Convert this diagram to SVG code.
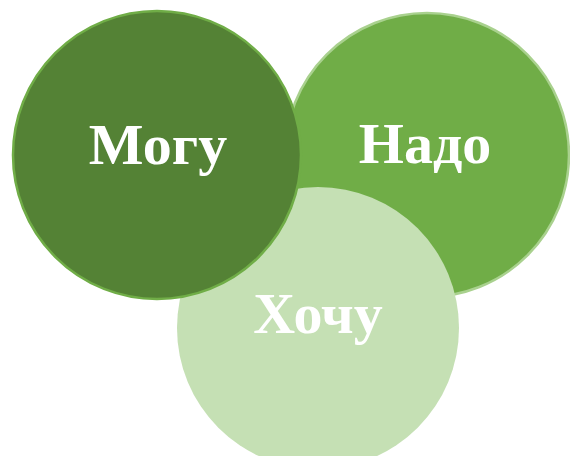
<svg xmlns="http://www.w3.org/2000/svg" width="570" height="456" viewBox="0 0 570 456">
<style>
.t{font-family:"Liberation Serif","Times New Roman",serif;font-weight:bold;font-size:58px;fill:#ffffff;text-anchor:middle}
</style>
<rect width="570" height="456" fill="#ffffff"/>
<g id="nado">
<circle cx="427" cy="155" r="142" fill="#70ad47" stroke="#a9d18e" stroke-width="2.5"/>
<text class="t" x="425" y="163">Надо</text>
</g>
<g id="hochu">
<circle cx="318" cy="328" r="141" fill="#c5e0b4"/>
<text class="t" x="318" y="333">Хочу</text>
</g>
<g id="mogu">
<circle cx="157" cy="155" r="144" fill="#548235" stroke="#70ad47" stroke-width="2.5"/>
<text class="t" x="158" y="164">Могу</text>
</g>
<g id="connectors"></g>
</svg>
